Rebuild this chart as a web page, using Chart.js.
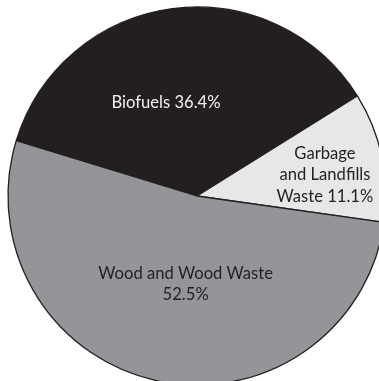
<!DOCTYPE html>
<html>
<head>
<meta charset="utf-8">
<script src="https://cdn.jsdelivr.net/npm/chart.js@4"></script>
<style>
  html, body { margin: 0; padding: 0; background: #fff; overflow: hidden; width: 379px; height: 381px; }
  #wrap { position: absolute; left: 0; top: 0; width: 394px; height: 392px; }
</style>
</head>
<body>
<div id="wrap"><canvas id="myChart" width="394" height="392"></canvas></div>
<script>
// chart data
var categories = ['Biofuels', 'Garbage and Landfills Waste', 'Wood and Wood Waste'];
var shares = [36.4, 11.1, 52.5];
var sliceColors = ['#231f20', '#e6e7e8', '#939598'];
var textColors = ['#f2f2f2', '#231f20', '#231f20'];
// text drawn inside each slice, line by line
var sliceText = [
  ['Biofuels 36.4%'],
  ['Garbage', 'and Landfills', 'Waste 11.1%'],
  ['Wood and Wood Waste', '52.5%']
];
// label anchor relative to pie centre, in units of radius
var textOffset = [[-0.164, -0.492], [0.677, -0.111], [-0.06, 0.466]];

var sliceLabels = {
  id: 'sliceLabels',
  afterDatasetsDraw: function(chart) {
    var ctx = chart.ctx;
    var arcs = chart.getDatasetMeta(0).data;
    ctx.save();
    ctx.font = '16.6px Lato';
    ctx.textAlign = 'center';
    ctx.textBaseline = 'middle';
    arcs.forEach(function(arc, i) {
      var lines = sliceText[i];
      var lh = 21.5;
      var x = arc.x + textOffset[i][0] * arc.outerRadius;
      var y = arc.y + textOffset[i][1] * arc.outerRadius - (lines.length - 1) * lh / 2;
      ctx.fillStyle = textColors[i];
      lines.forEach(function(t, j) {
        ctx.fillText(t, x, y + j * lh);
      });
    });
    ctx.restore();
  }
};

new Chart(document.getElementById('myChart'), {
  type: 'pie',
  data: {
    labels: categories,
    datasets: [{
      data: shares,
      backgroundColor: sliceColors,
      borderColor: '#231f20',
      borderWidth: 1.3
    }]
  },
  options: {
    responsive: false,
    animation: false,
    rotation: -73,
    radius: 189,
    layout: { padding: 0 },
    plugins: {
      legend: { display: false },
      tooltip: { enabled: false }
    }
  },
  plugins: [sliceLabels]
});
</script>
</body>
</html>
